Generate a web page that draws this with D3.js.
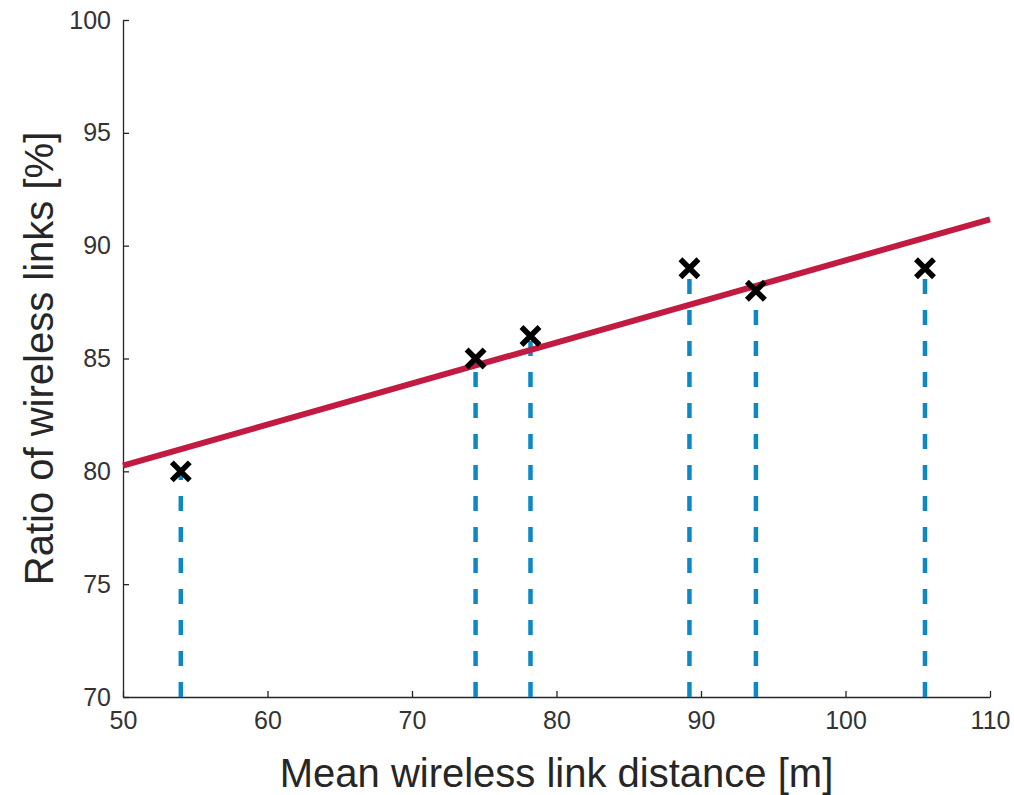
<!DOCTYPE html>
<html>
<head>
    <style>
        body {
            margin: 0;
            background: #fff;
            font-family: "Liberation Sans", Arial, sans-serif;
        }
        .axis path, .axis line {
            stroke: #262626;
            stroke-width: 1.3px;
        }
        .axis text {
            fill: #333;
            font-size: 25px;
            font-family: "Liberation Sans", Arial, sans-serif;
        }
        .label {
            fill: #262626;
            font-size: 40px;
        }
    </style>
</head>
<body>
    <div id="chart"></div>
    <script src="https://d3js.org/d3.v7.min.js"></script>
    <script>
        // measured data (mean link distance vs ratio of wireless links)
        var distance = [54.0, 74.4, 78.2, 89.2, 93.8, 105.5];
        var ratio = [80, 85, 86, 89, 88, 89];
        var xTicks = [50, 60, 70, 80, 90, 100, 110];
        var yTicks = [70, 75, 80, 85, 90, 95, 100];

        var W = 1014, H = 795;
        var margin = {top: 20, right: 24, bottom: 98, left: 123};

        var svg = d3.select("#chart").append("svg")
            .attr("width", W)
            .attr("height", H);

        var x = d3.scaleLinear().domain([50, 110]).range([margin.left, W - margin.right]);
        var y = d3.scaleLinear().domain([70, 100]).range([H - margin.bottom, margin.top]);

        // least squares fit through the points
        var mx = d3.mean(distance), my = d3.mean(ratio);
        var sxy = d3.sum(distance, function(d, i) { return (d - mx) * (ratio[i] - my); });
        var sxx = d3.sum(distance, function(d) { return (d - mx) * (d - mx); });
        var slope = sxy / sxx, icpt = my - slope * mx;

        svg.append("g")
            .attr("class", "axis")
            .attr("transform", "translate(0," + y(70) + ")")
            .call(d3.axisBottom(x).tickValues(xTicks).tickSizeInner(-6).tickSizeOuter(0).tickPadding(14));

        svg.append("g")
            .attr("class", "axis")
            .attr("transform", "translate(" + x(50) + ",0)")
            .call(d3.axisLeft(y).tickValues(yTicks).tickSizeInner(-6).tickSizeOuter(0).tickPadding(12));

        // stems
        svg.selectAll("line.stem")
            .data(distance)
            .enter().append("line")
            .attr("class", "stem")
            .attr("x1", function(d) { return x(d); })
            .attr("x2", function(d) { return x(d); })
            .attr("y1", y(70))
            .attr("y2", function(d, i) { return y(ratio[i]); })
            .attr("stroke", "#0e88c4")
            .attr("stroke-width", 4.5)
            .attr("stroke-dasharray", "15,16");

        // fitted line
        svg.append("line")
            .attr("x1", x(50)).attr("y1", y(slope * 50 + icpt))
            .attr("x2", x(110)).attr("y2", y(slope * 110 + icpt))
            .attr("stroke", "#c21a41")
            .attr("stroke-width", 6);

        // markers
        var s = 9;
        svg.selectAll("path.mark")
            .data(distance)
            .enter().append("path")
            .attr("class", "mark")
            .attr("transform", function(d, i) { return "translate(" + x(d) + "," + y(ratio[i]) + ")"; })
            .attr("d", "M" + (-s) + "," + (-s) + "L" + s + "," + s + "M" + (-s) + "," + s + "L" + s + "," + (-s))
            .attr("stroke", "#000")
            .attr("stroke-width", 5.5);

        svg.append("text")
            .attr("class", "label")
            .attr("x", (x(50) + x(110)) / 2)
            .attr("y", 787)
            .attr("text-anchor", "middle")
            .text("Mean wireless link distance [m]");

        svg.append("text")
            .attr("class", "label")
            .attr("transform", "translate(53," + y(85) + ") rotate(-90)")
            .attr("text-anchor", "middle")
            .text("Ratio of wireless links [%]");
    </script>
</body>
</html>
